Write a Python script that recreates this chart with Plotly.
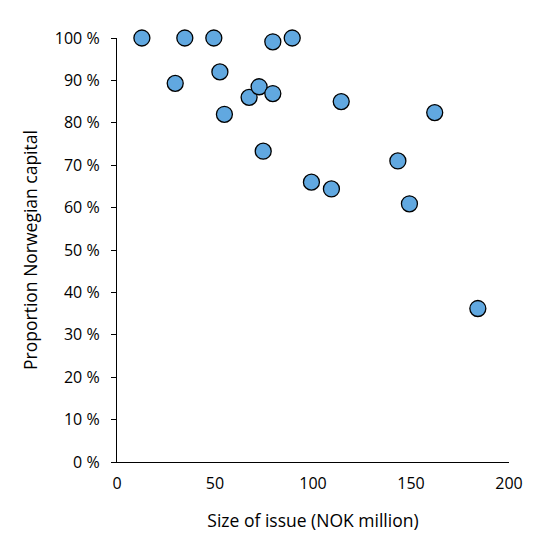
import plotly.graph_objects as go

# size of issue (NOK million) and share of Norwegian capital (%)
issue_size = [12.7, 34.6, 49.4, 79.5, 89.4, 29.7, 52.5, 67.4, 72.5, 79.5,
              54.8, 74.6, 99.2, 114.4, 162.1, 143.3, 109.4, 149.2, 184.1]
norwegian_share = [100, 100, 100, 99.1, 100, 89.3, 92.0, 86.0, 88.5, 86.9,
                   82.0, 73.3, 66.0, 85.0, 82.4, 71.0, 64.4, 60.9, 36.2]

x_ticks = [0, 50, 100, 150, 200]
y_ticks = [0, 10, 20, 30, 40, 50, 60, 70, 80, 90, 100]
y_labels = [f"{v} %" for v in y_ticks]

fig = go.Figure()
fig.add_trace(go.Scatter(
    x=issue_size, y=norwegian_share, mode="markers",
    marker=dict(size=16, color="rgb(97,168,224)", line=dict(color="black", width=1.3)),
    cliponaxis=False, showlegend=False))

font_name = "Open Sans, Lato, sans-serif"
fig.update_layout(
    width=560, height=560,
    margin=dict(l=117, r=51, t=38, b=98),
    paper_bgcolor="white", plot_bgcolor="white",
    font=dict(family=font_name, size=16, color="black"),
)
fig.update_xaxes(
    range=[0, 200], tickvals=x_ticks, showgrid=False, zeroline=False,
    showline=True, linecolor="black", linewidth=1.3,
    ticks="", ticklen=0, tickfont=dict(size=16), ticklabelstandoff=7,
    title=dict(text="Size of issue (NOK million)", font=dict(size=17.5), standoff=21),
)
fig.update_yaxes(
    range=[0, 100], tickvals=y_ticks, ticktext=y_labels, showgrid=False, zeroline=False,
    showline=True, linecolor="black", linewidth=1.3,
    ticks="outside", ticklen=5, tickwidth=1.3, tickcolor="black", tickfont=dict(size=16),
    ticklabelstandoff=8,
    title=dict(text="Proportion Norwegian capital", font=dict(size=17.5), standoff=12),
)

# page body has an 8px default margin; drop it so the figure sits at 0,0
fig.write_html("out.html", config={"displayModeBar": False},
               post_script="document.body.style.margin='0';")
